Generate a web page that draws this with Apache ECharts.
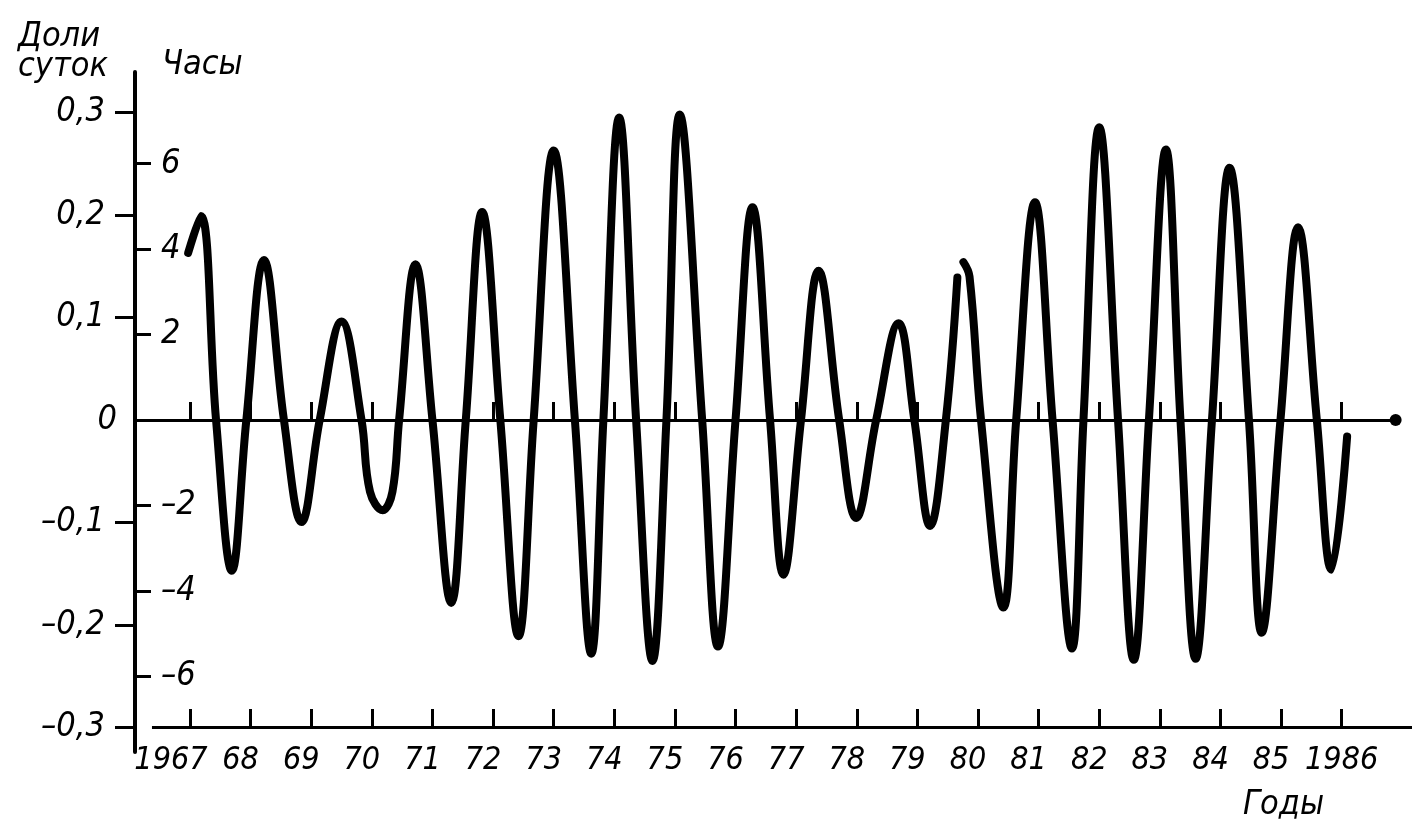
<!DOCTYPE html>
<html>
<head>
<meta charset="utf-8">
<title>Доли суток</title>
<script src="https://cdn.jsdelivr.net/npm/echarts@6/dist/echarts.min.js"></script>
<style>
  html, body { margin: 0; padding: 0; background: #fff; }
  #chart { width: 1413px; height: 821px; }
</style>
</head>
<body>
<div id="chart"></div>
<script>
// годы на оси и подписи
const yearTicks = [1967, 1968, 1969, 1970, 1971, 1972, 1973, 1974, 1975, 1976,
  1977, 1978, 1979, 1980, 1981, 1982, 1983, 1984, 1985, 1986];
const dayTicks = [-0.3, -0.2, -0.1, 0.1, 0.2, 0.3];
const dayLabels = [-0.3, -0.2, -0.1, 0, 0.1, 0.2, 0.3];
const hourTicks = [-6, -4, -2, 2, 4, 6];

// кривая до разрыва (около 1980 г.)
const seg1Years = [1966.97, 1967.18, 1967.43, 1967.69, 1967.93, 1968.22, 1968.55, 1968.84,
  1969.14, 1969.50, 1969.83, 1969.97, 1970.18, 1970.34, 1970.45, 1970.72, 1971.00, 1971.31,
  1971.55, 1971.82, 1972.12, 1972.42, 1972.67, 1973.00, 1973.35, 1973.62, 1973.82, 1974.08,
  1974.36, 1974.63, 1974.86, 1975.08, 1975.45, 1975.71, 1976.00, 1976.28, 1976.57, 1976.79,
  1977.08, 1977.37, 1977.71, 1977.99, 1978.32, 1978.69, 1978.95, 1979.21, 1979.47, 1979.66];
const seg1Values = [0.163, 0.199, 0, -0.147, 0, 0.156, 0, -0.0995,
  0, 0.096, 0, -0.07, -0.088, -0.07, 0, 0.152, 0, -0.1785,
  0, 0.203, 0, -0.211, 0, 0.263, 0, -0.228, 0, 0.295,
  0, -0.235, 0, 0.298, 0, -0.221, 0, 0.2075, 0, -0.151,
  0, 0.1457, 0, -0.0956, 0, 0.0943, 0, -0.1034, 0, 0.139];

// кривая после разрыва
const seg2Years = [1979.76, 1979.86, 1980.05, 1980.42, 1980.63, 1980.94, 1981.23, 1981.55,
  1981.74, 1982.00, 1982.31, 1982.57, 1982.82, 1983.10, 1983.34, 1983.59, 1983.86, 1984.15,
  1984.47, 1984.68, 1984.99, 1985.28, 1985.59, 1985.83, 1986.09];
const seg2Values = [0.154, 0.14, 0, -0.183, 0, 0.2124, 0, -0.223,
  0, 0.2856, 0, -0.234, 0, 0.264, 0, -0.233, 0, 0.246,
  0, -0.2075, 0, 0.188, 0, -0.146, -0.016];

const X_MIN = 1966.093, X_MAX = 1987.16;
const Y_MIN = -0.3239, Y_MAX = 0.3395;
const ZERO_END = 1986.89;
const BASE_START = 1966.373;

const FONT = "'DejaVu Sans Condensed', 'DejaVu Sans', sans-serif";
const txt = { color: '#000', fontFamily: FONT, fontStyle: 'italic', fontWeight: 'normal', fontSize: 34 };
const yearTxt = Object.assign({}, txt, { fontSize: 32 });
const ink = { color: '#000', width: 3 };

function pairs(xs, ys) {
  return xs.map((x, i) => [x, ys[i]]);
}

function dash(v) {
  return v < 0 ? '–' : '';
}

function yearLabel(v) {
  if (v === 1967) return '{f|1967}';
  if (v === 1986) return '{e|1986}';
  return '{s|' + String(v).slice(2) + '}';
}

function dayLabel(v) {
  if (v === 0) return '{z|0}';
  return '{d|' + dash(v) + Math.abs(v).toFixed(1).replace('.', ',') + '}';
}

let chart = echarts.init(document.getElementById('chart'), null, { renderer: 'canvas' });

chart.setOption({
  animation: false,
  backgroundColor: '#fff',
  title: [
    { text: 'Доли\nсуток', left: 13, top: 17, textStyle: Object.assign({}, txt, { lineHeight: 30 }) },
    { text: 'Часы', left: 157, top: 43, textStyle: txt },
    { text: 'Годы', left: 1238, top: 783, textStyle: txt }
  ],
  grid: { left: 135, top: 72, width: 1277, height: 680, containLabel: false },
  xAxis: [
    {
      type: 'value', min: X_MIN, max: X_MAX, position: 'bottom', offset: -24,
      axisLine: { show: false, onZero: false },
      axisTick: { show: true, inside: true, length: 19, lineStyle: ink, customValues: yearTicks },
      axisLabel: {
        show: true, margin: 17, customValues: yearTicks, hideOverlap: false,
        formatter: yearLabel,
        rich: {
          f: Object.assign({ padding: [0, 38, 0, 0] }, yearTxt),
          s: Object.assign({ padding: [0, 20, 0, 0] }, yearTxt),
          e: Object.assign({}, yearTxt)
        },
        ...yearTxt
      },
      splitLine: { show: false }
    },
    {
      // засечки на нулевой линии
      type: 'value', min: X_MIN, max: X_MAX, position: 'bottom',
      axisLine: { show: false, onZero: true, onZeroAxisIndex: 0 },
      axisTick: { show: true, inside: true, length: 18, lineStyle: ink, customValues: yearTicks },
      axisLabel: { show: false },
      splitLine: { show: false }
    }
  ],
  yAxis: [
    {
      type: 'value', min: Y_MIN, max: Y_MAX, position: 'left',
      axisLine: { show: true, onZero: false, lineStyle: { color: '#000', width: 4 } },
      axisTick: { show: true, length: 20, lineStyle: ink, customValues: dayTicks },
      axisLabel: {
        show: true, margin: 18, customValues: dayLabels,
        formatter: dayLabel,
        rich: {
          d: Object.assign({ padding: [0, 12, 0, 0] }, txt),
          z: Object.assign({}, txt)
        },
        ...txt
      },
      splitLine: { show: false }
    },
    {
      type: 'value', min: Y_MIN * 24, max: Y_MAX * 24, position: 'left',
      axisLine: { show: false, onZero: false },
      axisTick: { show: true, inside: true, length: 16, lineStyle: ink, customValues: hourTicks },
      axisLabel: {
        show: true, inside: true, margin: 26, customValues: hourTicks,
        formatter: v => dash(v) + Math.abs(v),
        ...txt
      },
      splitLine: { show: false }
    }
  ],
  series: [
    {
      type: 'line', xAxisIndex: 0, yAxisIndex: 0,
      data: pairs(seg1Years, seg1Values),
      smooth: 0.4, showSymbol: false, silent: true,
      lineStyle: { color: '#000', width: 8, cap: 'round', join: 'round' },
      markLine: {
        silent: true, symbol: ['none', 'none'],
        label: { show: false },
        lineStyle: { color: '#000', width: 3, type: 'solid' },
        data: [
          // нулевая линия с точкой на конце
          [{ coord: [X_MIN, 0], symbol: 'none' }, { coord: [ZERO_END, 0], symbol: 'circle', symbolSize: 12 }],
          // ось времени
          [{ coord: [BASE_START, -0.3] }, { coord: [X_MAX, -0.3] }]
        ]
      },
      z: 3
    },
    {
      type: 'line', xAxisIndex: 0, yAxisIndex: 0,
      data: pairs(seg2Years, seg2Values),
      smooth: 0.4, showSymbol: false, silent: true,
      lineStyle: { color: '#000', width: 8, cap: 'round', join: 'round' },
      z: 3
    }
  ]
});
</script>
</body>
</html>
